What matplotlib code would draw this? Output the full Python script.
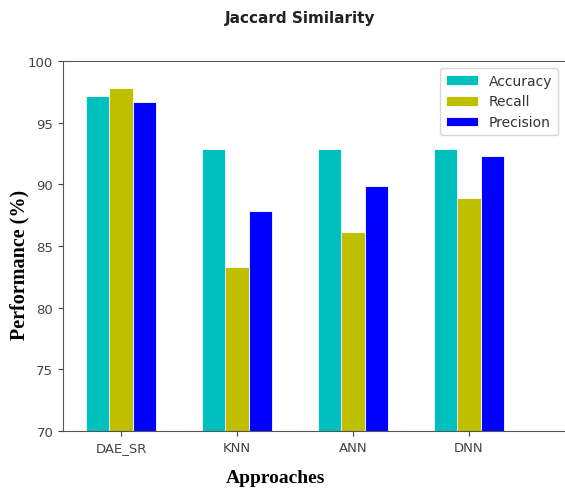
import matplotlib.pyplot as plt
import numpy as np

approaches = ["DAE_SR", "KNN", "ANN", "DNN"]
accuracy = [97.2, 92.9, 92.9, 92.9]
recall = [97.8, 83.3, 86.1, 88.9]
precision = [96.7, 87.8, 89.9, 92.3]

W, H = 565, 489
fig = plt.figure(figsize=(W / 100, H / 100), dpi=100)
# axes box in pixels: left 63, top 62, bottom 432, right is cut off by the image edge
ax = fig.add_axes([63 / W, (H - 432) / H, 520 / W, 370 / H])

x = np.arange(len(approaches))
w = 0.2
ax.bar(x - w, accuracy, w, color='c', edgecolor='white', linewidth=0.6, label="Accuracy")
ax.bar(x, recall, w, color='y', edgecolor='white', linewidth=0.6, label="Recall")
ax.bar(x + w, precision, w, color='b', edgecolor='white', linewidth=0.6, label="Precision")

ax.set_ylim(70, 100)
ax.set_xlim(-0.5, -0.5 + 520 / 116)
ax.set_xticks(x)
ax.set_xticklabels(approaches)
ax.tick_params(labelsize=9.5, colors='#444444')
for s in ax.spines.values():
    s.set_color('#555555')
ax.spines['right'].set_visible(False)

fig.text(300 / W, 1 - 18 / H, "Jaccard Similarity", ha='center', va='center',
         fontsize=11, fontweight='bold', color='#222222')
ax.set_ylabel("Performance (%)", family='Liberation Serif', fontweight='bold',
              fontsize=14.5)
ax.yaxis.set_label_coords((29 - 63) / 520, (432 - 265) / 370)
ax.set_xlabel("Approaches", family='Liberation Serif', fontweight='bold',
              fontsize=14)
ax.xaxis.set_label_coords((275 - 63) / 520, -(470 - 432) / 370)

leg = ax.legend(loc='upper right', bbox_to_anchor=(558 / W, 1 - 69 / H),
                bbox_transform=fig.transFigure, fontsize=10, borderaxespad=0,
                handlelength=2.3)
for t in leg.get_texts():
    t.set_color('#333333')

plt.savefig("out.png", dpi=100)
